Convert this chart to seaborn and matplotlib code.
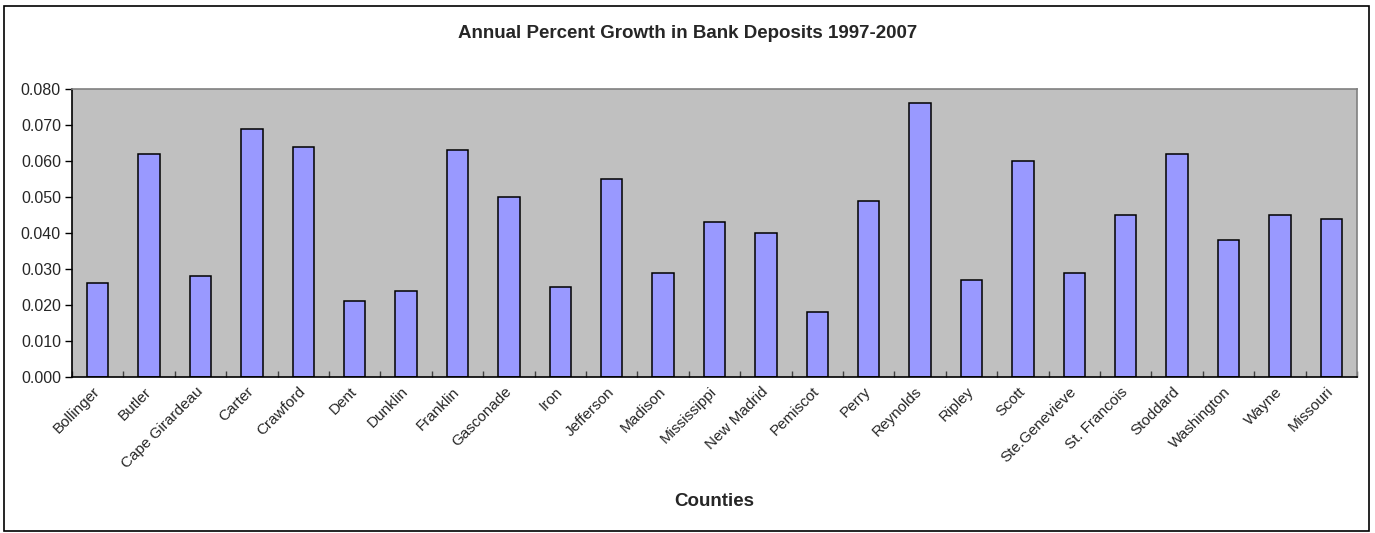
import matplotlib
matplotlib.use("Agg")
import matplotlib.pyplot as plt
from matplotlib.patches import Rectangle
from matplotlib.ticker import FixedLocator, FormatStrFormatter
import seaborn as sns
import pandas as pd

counties = ["Bollinger", "Butler", "Cape Girardeau", "Carter", "Crawford", "Dent",
            "Dunklin", "Franklin", "Gasconade", "Iron", "Jefferson", "Madison",
            "Mississippi", "New Madrid", "Pemiscot", "Perry", "Reynolds", "Ripley",
            "Scott", "Ste.Genevieve", "St. Francois", "Stoddard", "Washington",
            "Wayne", "Missouri"]
growth = [0.026, 0.062, 0.028, 0.069, 0.064, 0.021, 0.024, 0.063, 0.050, 0.025,
          0.055, 0.029, 0.043, 0.040, 0.018, 0.049, 0.076, 0.027, 0.060, 0.029,
          0.045, 0.062, 0.038, 0.045, 0.044]
y_ticks = [0.0, 0.01, 0.02, 0.03, 0.04, 0.05, 0.06, 0.07, 0.08]

title = "Annual Percent Growth in Bank Deposits 1997-2007"
x_title = "Counties"

sns.set_style("white")
plt.rcParams["font.family"] = ["Liberation Sans", "DejaVu Sans"]

W, H = 1375, 533
fig = plt.figure(figsize=(W / 100, H / 100), dpi=100)
ax = fig.add_axes([72 / W, 1 - 377 / H, (1357 - 72) / W, (377 - 89) / H])

df = pd.DataFrame({"county": counties, "growth": growth})
sns.barplot(data=df, x="county", y="growth", color="#9999FF", saturation=1,
            edgecolor="black", linewidth=1.1, width=0.42, ax=ax)

ax.set_facecolor("#C0C0C0")
ax.set_xlim(-0.5, len(counties) - 0.5)
ax.set_ylim(0, 0.08)
ax.set_yticks(y_ticks)
ax.yaxis.set_major_formatter(FormatStrFormatter("%.3f"))
ax.tick_params(axis="y", direction="out", length=5, width=1, color="black",
               labelsize=11.5, pad=3, left=True)

# category labels sit at bar centres; tick marks fall between categories
ax.set_xticks(range(len(counties)))
ax.set_xticklabels(counties, rotation=45, ha="right", va="center",
                   rotation_mode="anchor", fontsize=11)
ax.tick_params(axis="x", which="major", length=0, pad=9)
ax.xaxis.set_minor_locator(FixedLocator([i + 0.5 for i in range(-1, len(counties))]))
ax.tick_params(axis="x", which="minor", direction="in", length=4, width=1,
               color="#404040", bottom=True)

for side in ("left", "bottom"):
    ax.spines[side].set_color("black")
    ax.spines[side].set_linewidth(1.2)
for side in ("top", "right"):
    ax.spines[side].set_visible(True)
    ax.spines[side].set_color("#808080")
    ax.spines[side].set_linewidth(1.2)

ax.set_ylabel("")
ax.set_xlabel(x_title, fontsize=13.5, fontweight="bold")
ax.xaxis.set_label_coords(0.5, (377 - 502) / (377 - 89))
ax.xaxis.label.set_va("center")

fig.text(0.5, 1 - 33 / H, title, ha="center", va="center",
         fontsize=13.5, fontweight="bold")

# chart frame
fig.add_artist(Rectangle((4 / W, 2 / H), (1369 - 4) / W, (531 - 6) / H,
                         transform=fig.transFigure, fill=False,
                         edgecolor="black", linewidth=1.2))

fig.savefig("out.png", dpi=100, facecolor="white")
